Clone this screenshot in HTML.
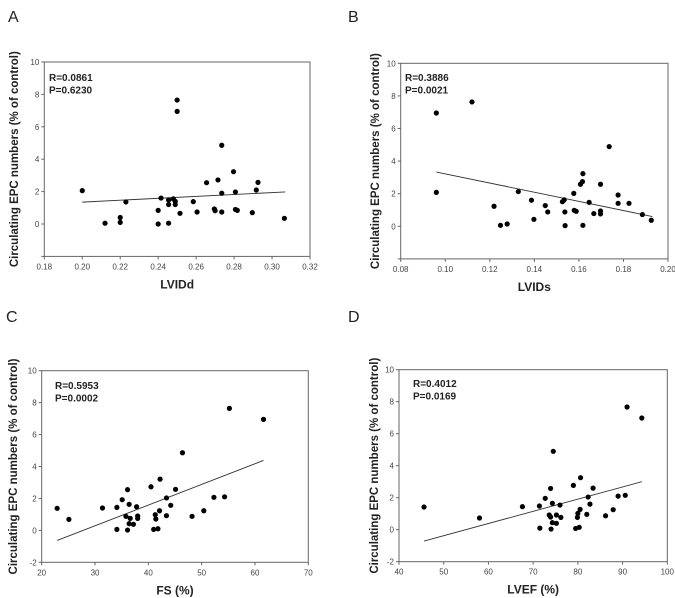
<!DOCTYPE html>
<html><head><meta charset="utf-8"><style>
body{margin:0;background:#fff}
svg{display:block;font-family:"Liberation Sans",Arial,sans-serif}
</style></head><body>
<svg id="fig" width="675" height="598" viewBox="0 0 675 598"></svg>
<script>
// Panel A data
const aX=[0.200,0.212,0.220,0.220,0.223,0.240,0.240,0.2415,0.2455,0.2455,0.2455,0.248,0.249,0.249,0.250,0.250,0.2515,0.2585,0.2605,0.2655,0.2696,0.270,0.2715,0.2735,0.2735,0.2735,0.2797,0.2807,0.2807,0.2817,0.2896,0.2917,0.2926,0.3065];
const aY=[2.06,0.05,0.4,0.1,1.36,0.84,0.0,1.6,1.48,1.2,0.05,1.55,1.4,1.2,7.65,6.95,0.66,1.38,0.74,2.55,0.93,0.82,2.72,4.86,1.9,0.74,3.23,1.98,0.9,0.84,0.7,2.1,2.57,0.35];
const aLineX=[0.200,0.307], aLineY=[1.35,1.98];
const aXTicks=["0.18","0.20","0.22","0.24","0.26","0.28","0.30","0.32"];
const aYTicks=["0","2","4","6","8","10"];
// Panel B data
const bX=[0.096,0.096,0.112,0.1219,0.1248,0.1278,0.1328,0.1387,0.1398,0.1449,0.146,0.1526,0.1534,0.1537,0.1538,0.1577,0.1579,0.1588,0.1607,0.1616,0.1618,0.1618,0.1646,0.1667,0.1697,0.1697,0.1697,0.1736,0.1776,0.1776,0.1825,0.1885,0.1925];
const bY=[6.95,2.08,7.63,1.23,0.06,0.14,2.13,1.6,0.43,1.27,0.88,1.51,1.62,0.88,0.04,2.02,0.98,0.92,2.58,2.74,3.23,0.06,1.47,0.78,2.58,0.94,0.76,4.89,1.92,1.41,1.41,0.72,0.37];
const bLineX=[0.096,0.193], bLineY=[3.33,0.6];
const bXTicks=["0.08","0.10","0.12","0.14","0.16","0.18","0.20"];
const bYTicks=["0","2","4","6","8","10"];
// Panel C data
const cX=[22.9,25.1,31.4,34.1,34.1,35.1,35.8,36.1,36.1,36.4,36.4,36.6,37.2,37.8,38.0,38.0,40.5,41.0,41.3,41.4,41.8,42.1,42.2,43.4,43.4,44.2,45.1,46.4,48.2,50.4,52.3,54.3,55.2,61.6];
const cY=[1.38,0.69,1.4,1.44,0.06,1.92,0.88,2.55,0.02,1.63,0.42,0.75,0.38,1.48,0.9,0.75,2.73,0.06,0.98,0.71,0.1,1.23,3.21,2.03,0.92,1.57,2.57,4.86,0.88,1.23,2.07,2.1,7.64,6.95];
const cLineX=[22.9,61.6], cLineY=[-0.63,4.38];
const cXTicks=["20","30","40","50","60","70"];
const cYTicks=["-2","0","2","4","6","8","10"];
// Panel D data
const dX=[45.6,58.0,67.6,71.4,71.5,72.7,73.6,73.9,73.9,74.0,74.3,74.3,74.5,75.2,75.2,76.0,76.2,79.0,79.5,79.9,80.0,80.3,80.5,80.6,82.0,82.3,82.7,83.4,86.2,87.9,89.0,90.6,91.0,94.3];
const dY=[1.42,0.73,1.44,1.48,0.1,1.96,0.92,2.58,0.79,0.04,1.65,0.44,4.9,0.92,0.4,1.54,0.77,2.77,0.08,0.77,1.02,0.15,1.27,3.25,0.96,2.04,1.6,2.6,0.87,1.25,2.1,2.15,7.67,6.98];
const dLineX=[45.6,94.3], dLineY=[-0.71,3.0];
const dXTicks=["40","50","60","70","80","90","100"];
const dYTicks=["-2","0","2","4","6","8","10"];

const NS="http://www.w3.org/2000/svg";
const svg=document.getElementById('fig');
function mk(tag,attrs,parent,txt){const e=document.createElementNS(NS,tag);for(const k in attrs)e.setAttribute(k,attrs[k]);if(txt!==undefined)e.textContent=txt;(parent||svg).appendChild(e);return e;}

const panels=[
 {id:'a',letter:'A',lx:8,ly:22,box:[44.3,62,310,256.4],xr:[0.18,0.32],yr:[-2,10],X:aX,Y:aY,LX:aLineX,LY:aLineY,xt:aXTicks,yt:aYTicks,xtitle:'LVIDd',R:'R=0.0861',P:'P=0.6230',rx:49,ry:81,tx:15},
 {id:'b',letter:'B',lx:348,ly:22,box:[400.7,63.3,668,258.9],xr:[0.08,0.20],yr:[-2,10],X:bX,Y:bY,LX:bLineX,LY:bLineY,xt:bXTicks,yt:bYTicks,xtitle:'LVIDs',R:'R=0.3886',P:'P=0.0021',rx:405,ry:81,tx:376},
 {id:'c',letter:'C',lx:6,ly:322,box:[41.7,370.7,308.3,562.3],xr:[20,70],yr:[-2,10],X:cX,Y:cY,LX:cLineX,LY:cLineY,xt:cXTicks,yt:cYTicks,xtitle:'FS (%)',R:'R=0.5953',P:'P=0.0002',rx:55,ry:389,tx:14},
 {id:'d',letter:'D',lx:348,ly:322,box:[399,369.7,667.3,561.7],xr:[40,100],yr:[-2,10],X:dX,Y:dY,LX:dLineX,LY:dLineY,xt:dXTicks,yt:dYTicks,xtitle:'LVEF (%)',R:'R=0.4012',P:'P=0.0169',rx:413,ry:387,tx:375}
];

panels.forEach(p=>{
  const g=mk('g',{});
  
  
  const [x0,y0,x1,y1]=p.box;
  const sx=v=>x0+(v-p.xr[0])/(p.xr[1]-p.xr[0])*(x1-x0);
  const sy=v=>y1-(v-p.yr[0])/(p.yr[1]-p.yr[0])*(y1-y0);
  const L=mk('text',{x:p.lx,y:p.ly,'font-size':16,fill:'#222'},g,p.letter);
  
  
  const fr=mk('rect',{x:x0,y:y0,width:x1-x0,height:y1-y0,fill:'none',stroke:'#666','stroke-width':1},g);
  
  
  // y ticks
  p.yt.forEach(t=>{const v=parseFloat(t),y=sy(v);
    mk('line',{x1:x0-3,x2:x0,y1:y,y2:y,stroke:'#666'},g);
    const e=mk('text',{x:x0-5,y:y+3,'font-size':8,fill:'#444','text-anchor':'end'},g,t);
    
    
  });
  // y minor ticks at odd values w/o labels (e.g., -2 in A/B)
  for(let v=p.yr[0];v<=p.yr[1];v+=2){if(!p.yt.includes(String(v))){const y=sy(v);mk('line',{x1:x0-3,x2:x0,y1:y,y2:y,stroke:'#666'},g);}}
  p.xt.forEach(t=>{const v=parseFloat(t),x=sx(v);
    mk('line',{x1:x,x2:x,y1:y1,y2:y1+3,stroke:'#666'},g);
    const e=mk('text',{x:x,y:y1+13,'font-size':8,fill:'#444','text-anchor':'middle'},g,t);
    
    
  });
  const xt=mk('text',{x:(x0+x1)/2,y:y1+32,'font-size':12,'font-weight':'bold',fill:'#222','text-anchor':'middle'},g,p.xtitle);
  
  
  const cy=(y0+y1)/2;
  const yt=mk('text',{x:p.tx,y:cy,'font-size':11.5,'font-weight':'bold',fill:'#222','text-anchor':'middle','dominant-baseline':'central',transform:`rotate(-90 ${p.tx} ${cy})`},g,'Circulating EPC numbers (% of control)');
  
  
  const ln=mk('line',{x1:sx(p.LX[0]),y1:sy(p.LY[0]),x2:sx(p.LX[1]),y2:sy(p.LY[1]),stroke:'#333','stroke-width':0.9},g);
  
  
  p.X.forEach((v,i)=>{
    const c=mk('circle',{cx:sx(v),cy:sy(p.Y[i]),r:2.6,fill:'#000'},g);
    
    
  });
  const r=mk('text',{x:p.rx,y:p.ry,'font-size':10,'font-weight':'bold',fill:'#222'},g,p.R);
  
  
  const pv=mk('text',{x:p.rx,y:p.ry+12.5,'font-size':10,'font-weight':'bold',fill:'#222'},g,p.P);
  
  
});
</script>
</body></html>
